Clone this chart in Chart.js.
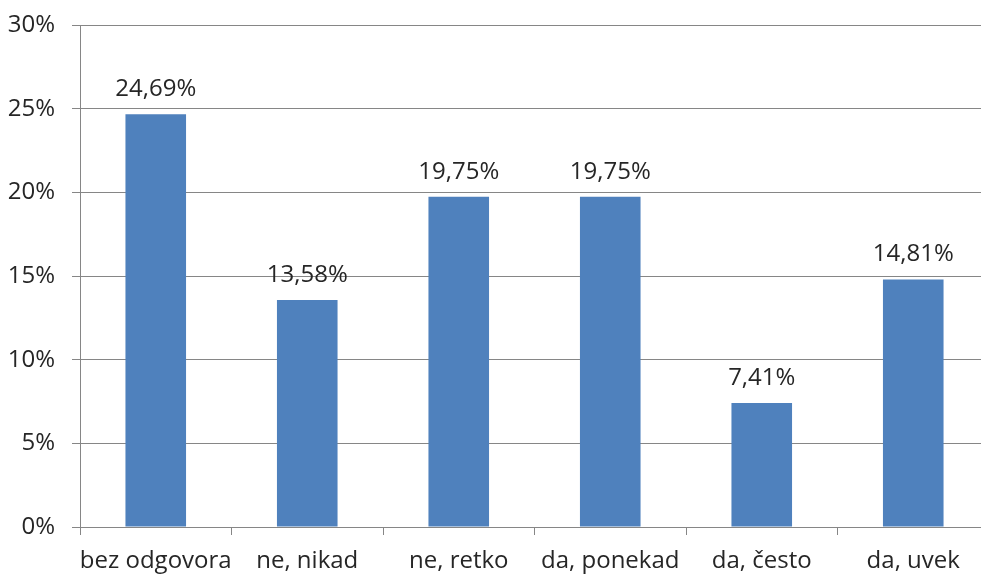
<!DOCTYPE html>
<html>
<head>
<meta charset="utf-8">
<script src="https://cdn.jsdelivr.net/npm/chart.js@4"></script>
<style>
  html, body { margin: 0; padding: 0; background: #fff; overflow: hidden; }
  #wrap { width: 990px; height: 574px; }
</style>
</head>
<body>
<div id="wrap"><canvas id="barChart"></canvas></div>
<script>
// categories and values (percent)
const categories = ["bez odgovora", "ne, nikad", "ne, retko", "da, ponekad", "da, često", "da, uvek"];
const shares = [24.69, 13.58, 19.75, 19.75, 7.41, 14.81];
const yTicks = [0, 5, 10, 15, 20, 25, 30];

const fontFamily = "'Open Sans', 'DejaVu Sans', sans-serif";
const textColor = "#262626";
const gridColor = "#868686";

function pct(v) {
  return v.toFixed(2).replace(".", ",") + "%";
}

// value labels above each bar
const valueLabels = {
  id: "valueLabels",
  afterDatasetsDraw(chart) {
    const ctx = chart.ctx;
    const meta = chart.getDatasetMeta(0);
    ctx.save();
    ctx.font = "24px " + fontFamily;
    ctx.fillStyle = textColor;
    ctx.textAlign = "center";
    ctx.textBaseline = "alphabetic";
    meta.data.forEach(function (bar, i) {
      ctx.fillText(pct(shares[i]), bar.x, bar.y - 18);
    });
    ctx.restore();
  },
};

const barData = {
  labels: categories,
  datasets: [
    {
      data: shares,
      backgroundColor: "#4F81BD",
      borderWidth: 0,
      barPercentage: 0.4,
      categoryPercentage: 1,
    },
  ],
};

const barConfig = {
  type: "bar",
  data: barData,
  options: {
    responsive: true,
    maintainAspectRatio: false,
    animation: false,
    layout: { padding: { top: 25, right: 1, left: 0, bottom: 0 } },
    scales: {
      x: {
        grid: {
          offset: true,
          drawOnChartArea: false,
          drawTicks: true,
          tickLength: 8,
          color: gridColor,
        },
        border: { display: true, color: gridColor },
        ticks: {
          color: textColor,
          font: { family: fontFamily, size: 24 },
          padding: 12,
          maxRotation: 0,
          autoSkip: false,
        },
        afterFit(scale) { scale.height = 47; },
      },
      y: {
        min: 0,
        max: 30,
        afterBuildTicks(scale) {
          scale.ticks = yTicks.map(function (v) { return { value: v }; });
        },
        grid: {
          color: gridColor,
          tickLength: 8,
        },
        border: { display: true, color: gridColor },
        ticks: {
          color: textColor,
          font: { family: fontFamily, size: 24, lineHeight: 0.7 },
          padding: 17,
          callback: function (v) { return v + "%"; },
        },
        afterFit(scale) { scale.width = 80; },
      },
    },
    plugins: {
      legend: { display: false },
      tooltip: { enabled: false },
    },
  },
  plugins: [valueLabels],
};

const barChartCtx = document.getElementById("barChart").getContext("2d");
new Chart(barChartCtx, barConfig);
</script>
</body>
</html>
